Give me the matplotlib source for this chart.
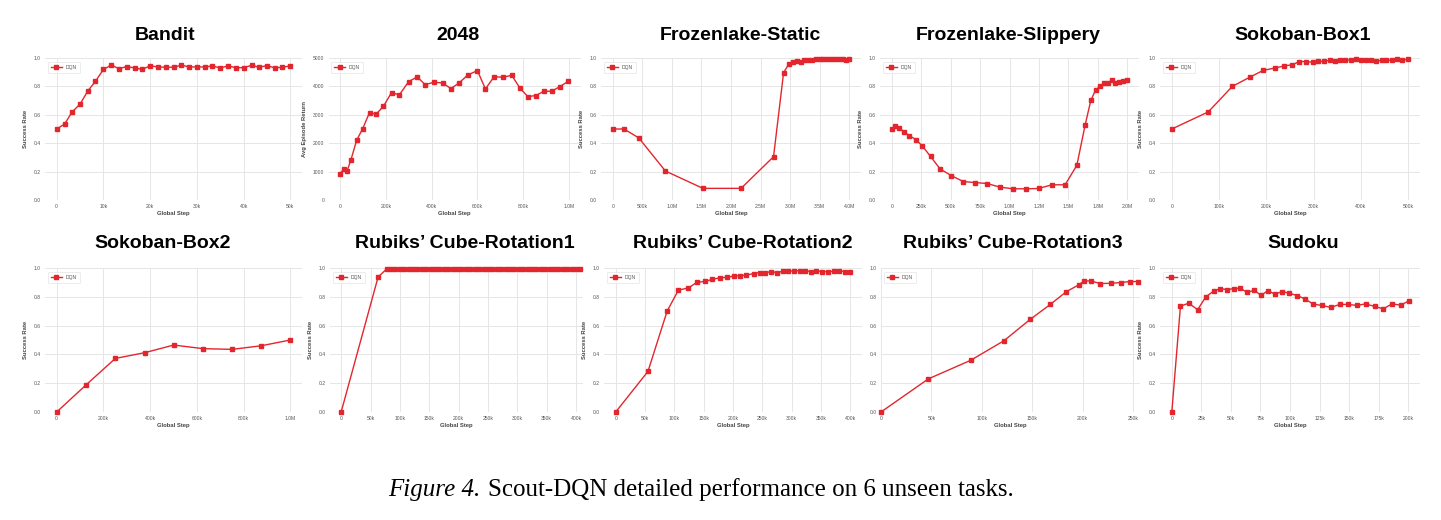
import matplotlib.pyplot as plt
from matplotlib.ticker import FixedLocator

# ---- data ----
bandit_x = [0, 1.7e3, 3.3e3, 5e3, 6.7e3, 8.3e3, 10e3, 11.7e3, 13.3e3, 15e3, 16.7e3, 18.3e3, 20e3,
            21.7e3, 23.3e3, 25e3, 26.7e3, 28.3e3, 30e3, 31.7e3, 33.3e3, 35e3, 36.7e3, 38.3e3, 40e3,
            41.7e3, 43.3e3, 45e3, 46.7e3, 48.3e3, 50e3]
bandit_y = [0.50, 0.535, 0.62, 0.675, 0.77, 0.835, 0.92, 0.95, 0.925, 0.94, 0.93, 0.92, 0.945,
            0.937, 0.935, 0.935, 0.95, 0.937, 0.937, 0.937, 0.944, 0.93, 0.944, 0.932, 0.932,
            0.948, 0.935, 0.946, 0.93, 0.935, 0.944]

g2048_x = [0, 0.016e6, 0.031e6, 0.048e6, 0.073e6, 0.099e6, 0.129e6, 0.158e6, 0.19e6, 0.225e6,
           0.259e6, 0.30e6, 0.337e6, 0.372e6, 0.41e6, 0.448e6, 0.484e6, 0.52e6, 0.558e6, 0.60e6,
           0.635e6, 0.673e6, 0.711e6, 0.75e6, 0.786e6, 0.82e6, 0.855e6, 0.89e6, 0.924e6, 0.96e6,
           0.997e6]
g2048_y = [913, 1089, 1019, 1417, 2108, 2506, 3080, 3021, 3302, 3782, 3700, 4169, 4333, 4063, 4145,
           4122, 3923, 4122, 4403, 4555, 3911, 4344, 4320, 4391, 3934, 3642, 3677, 3829, 3829, 3993,
           4180]

fl_static_x = [0, 0.19e6, 0.44e6, 0.89e6, 1.525e6, 2.17e6, 2.72e6, 2.89e6, 2.98e6, 3.05e6, 3.11e6,
               3.18e6, 3.24e6, 3.30e6, 3.37e6, 3.43e6, 3.50e6, 3.56e6, 3.63e6, 3.69e6, 3.76e6,
               3.82e6, 3.89e6, 3.95e6, 3.99e6]
fl_static_y = [0.50, 0.50, 0.437, 0.204, 0.082, 0.082, 0.305, 0.897, 0.958, 0.972, 0.977, 0.972,
               0.984, 0.986, 0.988, 0.993, 0.993, 0.99, 0.99, 0.99, 0.99, 0.99, 0.99, 0.988, 0.993]

fl_slip_x = [0, 0.031e6, 0.065e6, 0.105e6, 0.15e6, 0.204e6, 0.261e6, 0.329e6, 0.41e6, 0.505e6,
             0.607e6, 0.706e6, 0.811e6, 0.916e6, 1.027e6, 1.138e6, 1.248e6, 1.359e6, 1.472e6,
             1.572e6, 1.643e6, 1.691e6, 1.733e6, 1.77e6, 1.804e6, 1.838e6, 1.87e6, 1.898e6,
             1.929e6, 1.96e6, 1.994e6]
fl_slip_y = [0.50, 0.523, 0.507, 0.479, 0.453, 0.426, 0.379, 0.307, 0.219, 0.172, 0.13, 0.123,
             0.116, 0.091, 0.079, 0.079, 0.081, 0.107, 0.107, 0.244, 0.53, 0.702, 0.777, 0.80,
             0.821, 0.823, 0.847, 0.823, 0.828, 0.835, 0.842]

box1_x = [0, 77e3, 128e3, 165e3, 193e3, 218e3, 237e3, 255e3, 270e3, 283e3, 298e3, 310e3, 322e3,
          335e3, 346e3, 356e3, 367e3, 378e3, 389e3, 400e3, 411e3, 422e3, 432e3, 444e3, 454e3,
          466e3, 476e3, 487e3, 499e3]
box1_y = [0.50, 0.62, 0.80, 0.865, 0.912, 0.93, 0.943, 0.953, 0.975, 0.975, 0.97, 0.976, 0.976,
          0.985, 0.976, 0.987, 0.985, 0.987, 0.99, 0.987, 0.985, 0.987, 0.978, 0.983, 0.983,
          0.985, 0.99, 0.985, 0.99]

box2_x = [0, 0.127e6, 0.251e6, 0.377e6, 0.501e6, 0.626e6, 0.751e6, 0.876e6, 1.0e6]
box2_y = [0.0, 0.19, 0.372, 0.412, 0.465, 0.44, 0.435, 0.46, 0.50]

rot1_x = [0, 63e3, 77.5e3, 85e3, 92.5e3, 100e3, 107.5e3, 115e3, 122.5e3, 130e3, 137.5e3, 145e3,
          152.5e3, 160e3, 167.5e3, 175e3, 182.5e3, 190e3, 197.5e3, 205e3, 212.5e3, 220e3,
          227.5e3, 235e3, 242.5e3, 250e3, 257.5e3, 265e3, 272.5e3, 280e3, 287.5e3, 295e3,
          302.5e3, 310e3, 317.5e3, 325e3, 332.5e3, 340e3, 347.5e3, 355e3, 362.5e3, 370e3,
          377.5e3, 385e3, 392.5e3, 400e3, 407.5e3]
rot1_y = [0.0, 0.938] + [0.993] * 45

rot2_x = [0, 55e3, 87.7e3, 107e3, 124e3, 138e3, 152e3, 165e3, 178e3, 190e3, 201e3, 212.5e3,
          223e3, 235e3, 245.6e3, 255e3, 265.5e3, 275e3, 285e3, 294.6e3, 304e3, 314e3, 323.6e3,
          333e3, 342e3, 352e3, 362e3, 371.5e3, 381e3, 391e3, 400e3]
rot2_y = [0.0, 0.282, 0.701, 0.847, 0.861, 0.90, 0.907, 0.921, 0.933, 0.935, 0.944, 0.947, 0.951,
          0.961, 0.968, 0.968, 0.975, 0.968, 0.977, 0.977, 0.981, 0.981, 0.981, 0.975, 0.981,
          0.975, 0.975, 0.977, 0.981, 0.975, 0.975]

rot3_x = [0, 47e3, 89e3, 122e3, 148e3, 168e3, 184e3, 196e3, 201.5e3, 208e3, 217.7e3, 228e3, 238e3,
          246.7e3, 255e3]
rot3_y = [0.0, 0.23, 0.359, 0.495, 0.643, 0.747, 0.836, 0.882, 0.91, 0.91, 0.892, 0.894, 0.899,
          0.906, 0.906]

sudoku_x = [0, 7.3e3, 14.4e3, 21.8e3, 28.8e3, 35.3e3, 41e3, 46.6e3, 52.5e3, 58e3, 63.8e3, 69.8e3,
            75.4e3, 81.4e3, 87e3, 93.5e3, 99.4e3, 106e3, 112.4e3, 119.8e3, 127e3, 134.5e3, 142e3,
            149.4e3, 156.5e3, 164e3, 171.5e3, 179e3, 186.4e3, 193.5e3, 200.3e3]
sudoku_y = [0.0, 0.735, 0.756, 0.71, 0.80, 0.839, 0.857, 0.85, 0.857, 0.86, 0.83, 0.846, 0.81,
            0.843, 0.819, 0.836, 0.825, 0.809, 0.786, 0.749, 0.74, 0.726, 0.747, 0.747, 0.74,
            0.751, 0.733, 0.717, 0.751, 0.742, 0.77]

titles = ["Bandit", "2048", "Frozenlake-Static", "Frozenlake-Slippery", "Sokoban-Box1",
          "Sokoban-Box2", "Rubiks\u2019 Cube-Rotation1", "Rubiks\u2019 Cube-Rotation2",
          "Rubiks\u2019 Cube-Rotation3", "Sudoku"]
xs = [bandit_x, g2048_x, fl_static_x, fl_slip_x, box1_x, box2_x, rot1_x, rot2_x, rot3_x, sudoku_x]
ys = [bandit_y, g2048_y, fl_static_y, fl_slip_y, box1_y, box2_y, rot1_y, rot2_y, rot3_y, sudoku_y]
ylabels = ["Success Rate", "Avg Episode Return", "Success Rate", "Success Rate", "Success Rate",
           "Success Rate", "Success Rate", "Success Rate", "", "Success Rate"]

xticks = [
    ([0, 10e3, 20e3, 30e3, 40e3, 50e3], ["0", "10k", "20k", "30k", "40k", "50k"]),
    ([0, 0.2e6, 0.4e6, 0.6e6, 0.8e6, 1e6], ["0", "200k", "400k", "600k", "800k", "1.0M"]),
    ([0, 0.5e6, 1e6, 1.5e6, 2e6, 2.5e6, 3e6, 3.5e6, 4e6],
     ["0", "500k", "1.0M", "1.5M", "2.0M", "2.5M", "3.0M", "3.5M", "4.0M"]),
    ([0, 0.25e6, 0.5e6, 0.75e6, 1e6, 1.25e6, 1.5e6, 1.75e6, 2e6],
     ["0", "250k", "500k", "750k", "1.0M", "1.2M", "1.5M", "1.8M", "2.0M"]),
    ([0, 100e3, 200e3, 300e3, 400e3, 500e3], ["0", "100k", "200k", "300k", "400k", "500k"]),
    ([0, 0.2e6, 0.4e6, 0.6e6, 0.8e6, 1e6], ["0", "200k", "400k", "600k", "800k", "1.0M"]),
    ([0, 50e3, 100e3, 150e3, 200e3, 250e3, 300e3, 350e3, 400e3],
     ["0", "50k", "100k", "150k", "200k", "250k", "300k", "350k", "400k"]),
    ([0, 50e3, 100e3, 150e3, 200e3, 250e3, 300e3, 350e3, 400e3],
     ["0", "50k", "100k", "150k", "200k", "250k", "300k", "350k", "400k"]),
    ([0, 50e3, 100e3, 150e3, 200e3, 250e3], ["0", "50k", "100k", "150k", "200k", "250k"]),
    ([0, 25e3, 50e3, 75e3, 100e3, 125e3, 150e3, 175e3, 200e3],
     ["0", "25k", "50k", "75k", "100k", "125k", "150k", "175k", "200k"]),
]
xlims = [(-2.5e3, 52.5e3), (-0.05e6, 1.05e6), (-0.2e6, 4.2e6), (-0.1e6, 2.1e6), (-25e3, 525e3),
         (-0.05e6, 1.05e6), (-19e3, 412e3), (-20e3, 420e3), (0, 257e3), (-10e3, 210e3)]

# layout in pixels: (left, right) of each axes, row top/bottom, title centers
W, H = 1441, 520
lr = [(45, 302), (328.5, 580.5), (601, 861), (880, 1139), (1160, 1420),
      (45, 302), (330, 583), (604, 862), (881, 1140), (1160, 1420)]
rows = [(58, 200), (268, 412)]
title_x = [165, 458, 740, 1008, 1303, 163, 465, 743, 1013, 1303]
title_y = [36, 244]

RED = "#e3262d"
plt.rcParams["font.family"] = ["Liberation Sans", "DejaVu Sans"]

fig = plt.figure(figsize=(W / 100, H / 100), dpi=100)

for i in range(10):
    top, bot = rows[i // 5]
    l, r = lr[i]
    ax = fig.add_axes([l / W, 1 - bot / H, (r - l) / W, (bot - top) / H])
    ax.plot(xs[i], ys[i], color=RED, lw=1.0, marker="s", ms=2.3, label="DQN", clip_on=False)
    ax.set_xlim(*xlims[i])
    if i == 1:
        ax.set_ylim(0, 5000)
        ax.yaxis.set_major_locator(FixedLocator([0, 1000, 2000, 3000, 4000, 5000]))
    else:
        ax.set_ylim(0, 1.0)
        ax.yaxis.set_major_locator(FixedLocator([0, 0.2, 0.4, 0.6, 0.8, 1.0]))
        ax.set_yticklabels(["0.0", "0.2", "0.4", "0.6", "0.8", "1.0"])
    ax.set_xticks(xticks[i][0])
    ax.set_xticklabels(xticks[i][1])
    ax.grid(True, color="#e6e6e6", lw=0.7)
    ax.set_axisbelow(True)
    for s in ax.spines.values():
        s.set_visible(False)
    ax.tick_params(length=0, labelsize=3.6, labelcolor="#555555", pad=3)
    ax.set_xlabel("Global Step", fontsize=4.2, fontweight="bold", color="#444444", labelpad=1)
    if ylabels[i]:
        ax.set_ylabel(ylabels[i], fontsize=4.2, fontweight="bold", color="#444444", labelpad=4)
    leg = ax.legend(loc="upper left", fontsize=3.6, frameon=True, handlelength=2.2,
                    borderpad=0.6, bbox_to_anchor=(0.0, 0.99))
    leg.get_frame().set_edgecolor("#dddddd")
    leg.get_frame().set_linewidth(0.5)
    for t in leg.get_texts():
        t.set_color("#555555")
    fig.text(title_x[i] / W, 1 - title_y[i // 5] / H, titles[i], fontsize=14, fontweight="bold",
             ha="center", va="center")

fig.text(480 / W, 1 - 490 / H, "Figure 4.", family="Liberation Serif", style="italic",
         fontsize=18, ha="right", va="center")
fig.text(488 / W, 1 - 490 / H, "Scout-DQN detailed performance on 6 unseen tasks.",
         family="Liberation Serif", fontsize=18, ha="left", va="center")

fig.savefig("out.png", dpi=100, facecolor="white")
